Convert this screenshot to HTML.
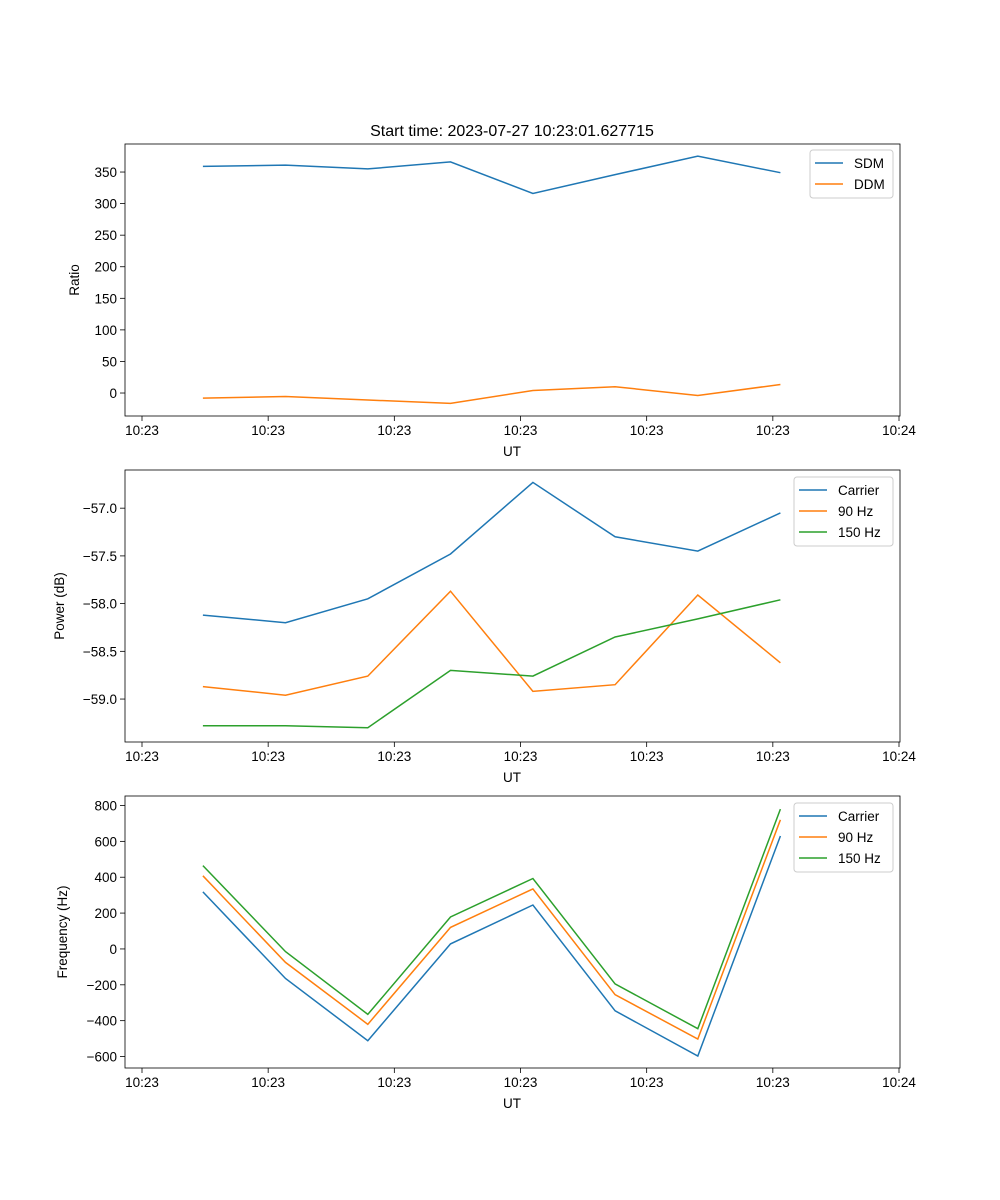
<!DOCTYPE html>
<html><head><meta charset="utf-8"><style>
html,body{margin:0;padding:0;background:#fff}
svg{display:block;font-family:"Liberation Sans","DejaVu Sans",sans-serif}
</style></head><body>
<svg id="fig" width="1000" height="1200" viewBox="0 0 1000 1200"></svg>
<script>
const timesSec = [4.83, 11.37, 17.9, 24.45, 30.98, 37.5, 44.05, 50.6];
const xTickSec = [0, 10, 20, 30, 40, 50, 60];
const xTickLabels = ["10:23","10:23","10:23","10:23","10:23","10:23","10:24"];
const sdm = [359, 361, 355, 366, 316, 346, 375, 349];
const ddm = [-8, -5.5, -11, -16.5, 4, 10, -4, 13.5];
const ratioTicks = [0, 50, 100, 150, 200, 250, 300, 350];
const pCarrier = [-58.12, -58.20, -57.95, -57.48, -56.73, -57.30, -57.45, -57.05];
const p90 = [-58.87, -58.96, -58.76, -57.87, -58.92, -58.85, -57.91, -58.62];
const p150 = [-59.28, -59.28, -59.30, -58.70, -58.76, -58.35, -58.16, -57.96];
const powerTicks = [-59.0, -58.5, -58.0, -57.5, -57.0];
const fCarrier = [318, -165, -512, 28, 245, -345, -597, 630];
const f90 = [408, -75, -420, 120, 335, -255, -502, 720];
const f150 = [465, -15, -365, 178, 393, -195, -445, 780];
const freqTicks = [-600, -400, -200, 0, 200, 400, 600, 800];

const NS = "http://www.w3.org/2000/svg";
const svg = document.getElementById('fig');
function mk(tag, attrs, parent){const e=document.createElementNS(NS,tag);for(const k in attrs)e.setAttribute(k,attrs[k]);(parent||svg).appendChild(e);return e;}
const L=125,R=900;
const xScale = s => 142 + (s-0)*(899-142)/60;

function panel(name, top, bottom, ymin, ymax, yTicks, fmt, ylabel, ylabelX, series, legend){
  const g = mk('g',{});
  
  
  const y = v => bottom - (v-ymin)*(bottom-top)/(ymax-ymin);
  xTickSec.forEach((s,i)=>{
    const x=xScale(s);
    mk('line',{x1:x,x2:x,y1:bottom,y2:bottom+5,stroke:'#000','stroke-width':0.8},g);
    const t=mk('text',{x:x,y:bottom+19,'font-size':13.5,'text-anchor':'middle'},g);
    t.textContent=xTickLabels[i];
    
    
  });
  yTicks.forEach(v=>{
    const yy=y(v);
    mk('line',{x1:L-5,x2:L,y1:yy,y2:yy,stroke:'#000','stroke-width':0.8},g);
    const t=mk('text',{x:L-8,y:yy+5,'font-size':13.5,'text-anchor':'end'},g);
    t.textContent=fmt(v);
    
    
  });
  const xl=mk('text',{x:512,y:bottom+40,'font-size':13.5,'text-anchor':'middle'},g);
  xl.textContent='UT';
  
  
  const cy=(top+bottom)/2;
  const yl=mk('text',{x:ylabelX,y:cy,'font-size':13.5,'text-anchor':'middle',transform:`rotate(-90 ${ylabelX} ${cy})`},g);
  yl.textContent=ylabel;
  
  
  series.forEach(s=>{
    const pts=s.vals.map((v,i)=>xScale(timesSec[i]).toFixed(1)+','+y(v).toFixed(1)).join(' ');
    const p=mk('polyline',{points:pts,fill:'none',stroke:s.color,'stroke-width':1.5},g);
    
    
  });
  mk('rect',{x:L,y:top,width:R-L,height:bottom-top,fill:'none',stroke:'#000','stroke-width':0.8},g);
  const lg=mk('g',{},g);
  
  
  mk('rect',{x:legend.x,y:legend.y,width:R-7-legend.x,height:series.length*21+6,rx:3,fill:'#fff','fill-opacity':0.8,stroke:'#ccc'},lg);
  series.forEach((s,i)=>{
    const ly=legend.y+13+i*21;
    mk('line',{x1:legend.x+5,x2:legend.x+33,y1:ly,y2:ly,stroke:s.color,'stroke-width':1.5},lg);
    const t=mk('text',{x:legend.x+44,y:ly+5,'font-size':13.5},lg);
    t.textContent=s.label;
    
    
  });
}
const B='#1f77b4',O='#ff7f0e',G='#2ca02c';
const title=mk('text',{x:512,y:136,'font-size':16,'text-anchor':'middle'});
title.textContent='Start time: 2023-07-27 10:23:01.627715';


panel('ratio-panel',144,416,-36.4,394.4,ratioTicks,v=>String(v),'Ratio',79,
  [{id:'sdm',label:'SDM',color:B,vals:sdm},{id:'ddm',label:'DDM',color:O,vals:ddm}],{x:810,y:150});
panel('power-panel',470,742,-59.45,-56.60,powerTicks,v=>'\u2212'.repeat(v<0?1:0)+Math.abs(v).toFixed(1),'Power (dB)',64,
  [{id:'power-carrier',label:'Carrier',color:B,vals:pCarrier},{id:'power-90hz',label:'90 Hz',color:O,vals:p90},{id:'power-150hz',label:'150 Hz',color:G,vals:p150}],{x:794,y:477});
panel('frequency-panel',796,1068,-664,853,freqTicks,v=>(v<0?'\u2212':'')+Math.abs(v),'Frequency (Hz)',67,
  [{id:'freq-carrier',label:'Carrier',color:B,vals:fCarrier},{id:'freq-90hz',label:'90 Hz',color:O,vals:f90},{id:'freq-150hz',label:'150 Hz',color:G,vals:f150}],{x:794,y:803});
</script>
</body></html>
